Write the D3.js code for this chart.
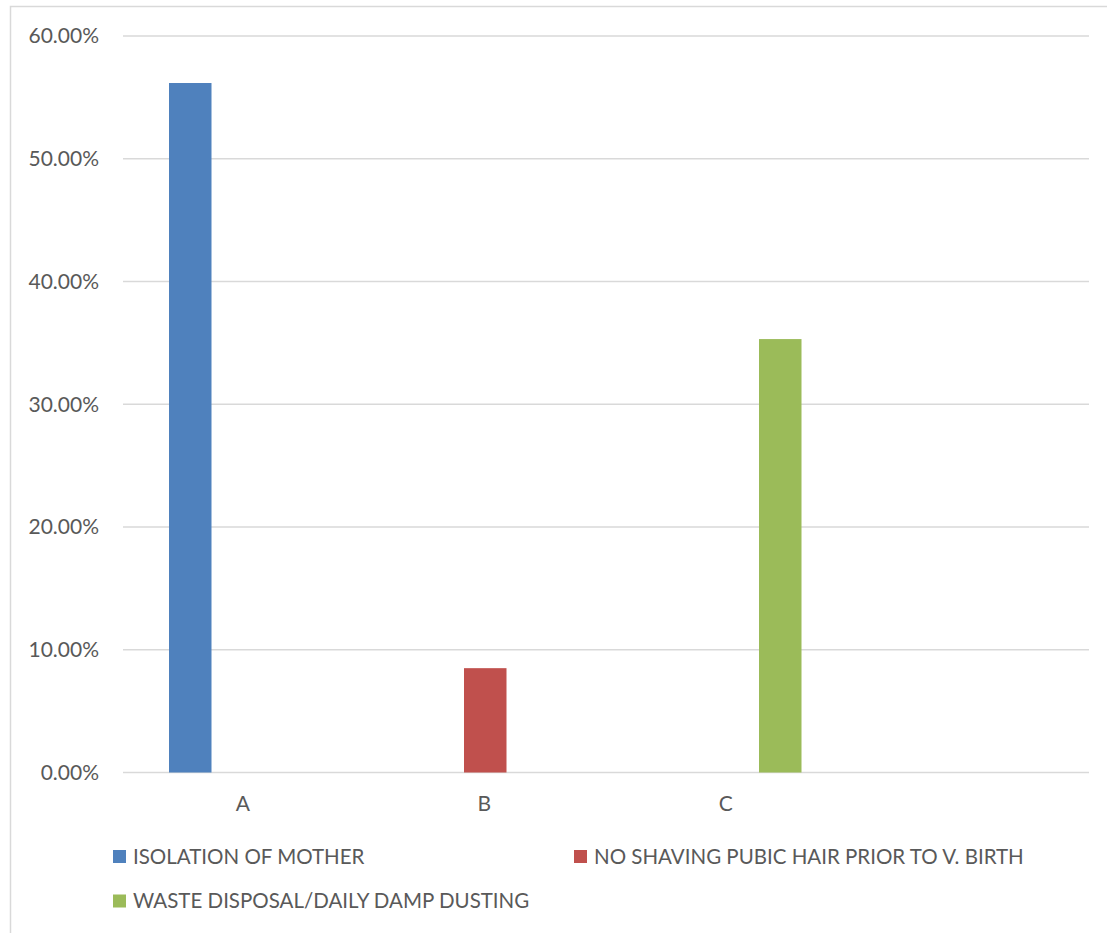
<!DOCTYPE html>
<html>
<head>
<meta charset="utf-8">
<script src="https://cdn.jsdelivr.net/npm/d3@7"></script>
<style>
  html, body { margin: 0; padding: 0; background: #fff; }
  svg { display: block; }
  text { font-family: Lato, "Open Sans", sans-serif; fill: #595959; }
</style>
</head>
<body>
<svg id="chart" width="1107" height="933"></svg>
<script>
// Categories along the x axis (the fourth slot is left empty)
const categories = ["A", "B", "C", ""];
// Series names, in legend order
const seriesNames = [
  "ISOLATION OF MOTHER",
  "NO SHAVING PUBIC HAIR PRIOR TO V. BIRTH",
  "WASTE DISPOSAL/DAILY DAMP DUSTING"
];
const seriesColors = ["#4f81bd", "#c0504d", "#9bbb59"];
// Values per series, one per category (null = no bar)
const isolationValues = [0.5617, null, null, null];
const shavingValues   = [null, 0.0850, null, null];
const wasteValues     = [null, null, 0.3531, null];
const seriesValues = [isolationValues, shavingValues, wasteValues];
// Y axis ticks
const yTicks = [0, 0.1, 0.2, 0.3, 0.4, 0.5, 0.6];

const svg = d3.select("#chart");

// Outer chart frame (top and left edges visible)
svg.append("path")
  .attr("d", "M10.5,933 V6.5 H1107")
  .attr("fill", "none")
  .attr("stroke", "#d9d9d9")
  .attr("stroke-width", 1.5);

const plot = { left: 123, right: 1089, top: 36, bottom: 772.5 };

const x = d3.scaleBand()
  .domain(categories.map((c, i) => i))
  .range([plot.left, plot.right])
  .paddingInner(0).paddingOuter(0);

const y = d3.scaleLinear()
  .domain([0, 0.6])
  .range([plot.bottom, plot.top]);

// Bars inside a group: width 42.5, spaced 53.5 apart
const barW = 42.5;
const barStep = 53.5;
const xSub = d3.scaleLinear()
  .domain([0, seriesNames.length - 1])
  .range([-barStep, barStep]);

// Gridlines
svg.append("g")
  .selectAll("line")
  .data(yTicks)
  .join("line")
  .attr("x1", plot.left)
  .attr("x2", plot.right)
  .attr("y1", d => y(d))
  .attr("y2", d => y(d))
  .attr("stroke", "#d9d9d9")
  .attr("stroke-width", 1.5);

// Y axis labels
const fmt = d3.format(".2%");
svg.append("g")
  .selectAll("text")
  .data(yTicks)
  .join("text")
  .attr("x", 99)
  .attr("y", d => y(d))
  .attr("dy", "0.35em")
  .attr("text-anchor", "end")
  .attr("font-size", 21)
  .text(d => fmt(d));

// Bars
const barData = [];
seriesValues.forEach((vals, s) => {
  vals.forEach((v, i) => {
    if (v != null) barData.push({ s, i, v });
  });
});
svg.append("g")
  .selectAll("rect")
  .data(barData)
  .join("rect")
  .attr("x", d => x(d.i) + x.bandwidth() / 2 + xSub(d.s) - barW / 2)
  .attr("width", barW)
  .attr("y", d => y(d.v))
  .attr("height", d => y(0) - y(d.v))
  .attr("fill", d => seriesColors[d.s]);

// Category labels
svg.append("g")
  .selectAll("text")
  .data(categories.map((c, i) => ({ c, i })))
  .join("text")
  .attr("x", d => x(d.i) + x.bandwidth() / 2 - 1)
  .attr("y", 811)
  .attr("text-anchor", "middle")
  .attr("font-size", 21)
  .text(d => d.c);

// Legend
const legendPos = [
  { x: 113, y: 856.5 },
  { x: 574, y: 856.5 },
  { x: 113, y: 901 }
];
const legend = svg.append("g")
  .selectAll("g")
  .data(seriesNames.map((n, i) => ({ n, i })))
  .join("g")
  .attr("transform", d => `translate(${legendPos[d.i].x},${legendPos[d.i].y})`);
legend.append("rect")
  .attr("x", 0).attr("y", -6.5)
  .attr("width", 13).attr("height", 13)
  .attr("fill", d => seriesColors[d.i]);
legend.append("text")
  .attr("x", 20)
  .attr("dy", "0.35em")
  .attr("font-size", 20.5)
  .text(d => d.n);
</script>
</body>
</html>
